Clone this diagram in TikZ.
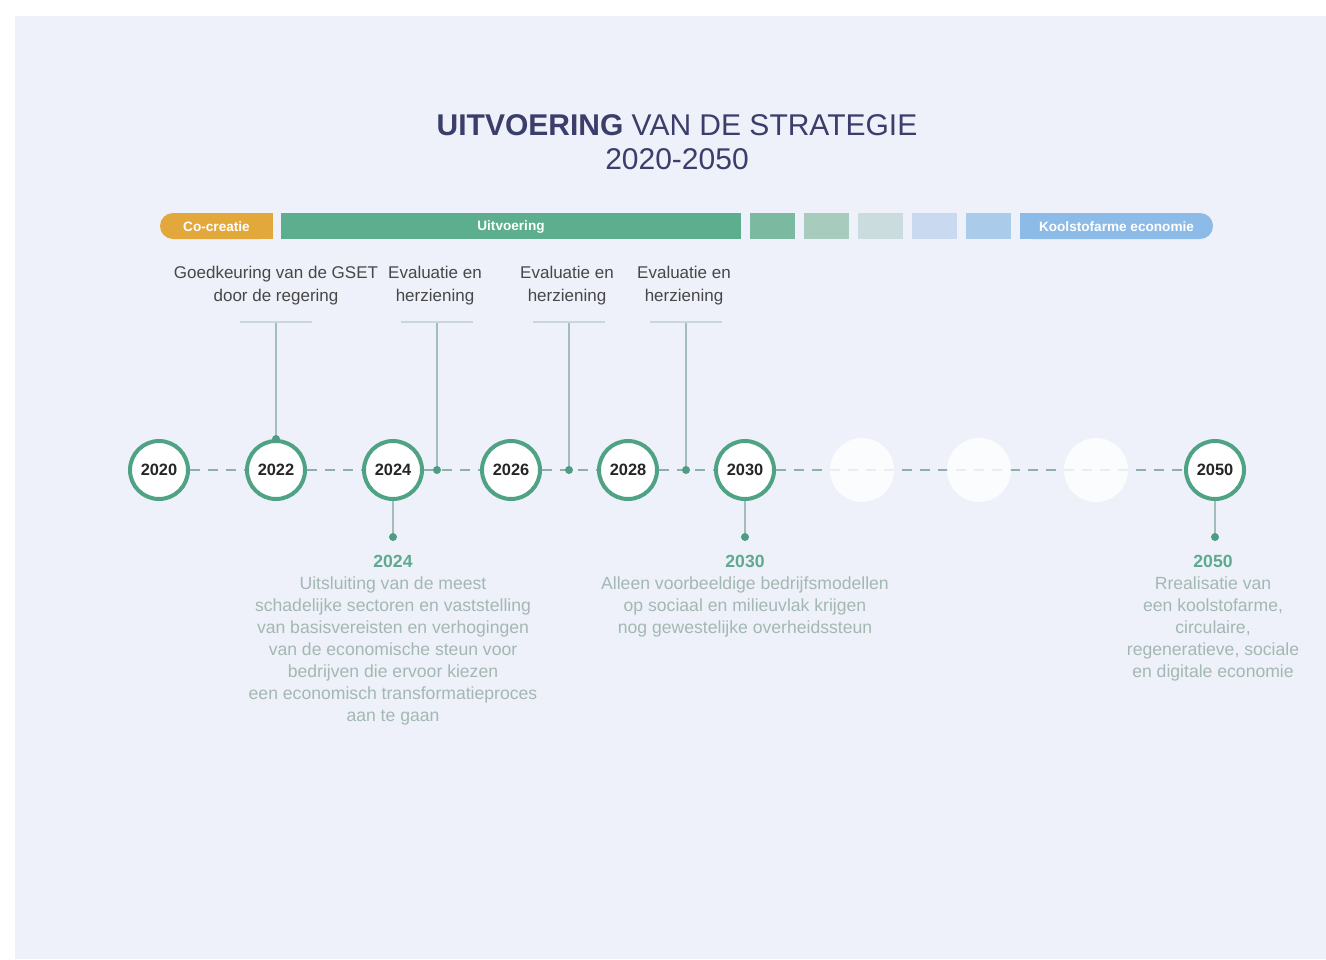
\documentclass[tikz,border=0pt]{standalone}
\usepackage{fontspec}
\setmainfont{Liberation Sans}
\usetikzlibrary{positioning}

\definecolor{panel}{HTML}{EEF1F9}
\definecolor{navy}{HTML}{3B3E6A}
\definecolor{ringgreen}{HTML}{4FA283}
\definecolor{dashgray}{HTML}{8DB0A8}
\definecolor{stemgray}{HTML}{A3BDBB}
\definecolor{capgray}{HTML}{C9D6DC}
\definecolor{labelgray}{HTML}{474747}
\definecolor{notegray}{HTML}{A3B8B3}
\definecolor{yeargreen}{HTML}{5FAA8F}
\definecolor{dotgreen}{HTML}{4E9C84}
\definecolor{cocreatie}{HTML}{E2A83C}
\definecolor{uitvoering}{HTML}{5DAE8E}
\definecolor{fadeA}{HTML}{7BB9A0}
\definecolor{fadeB}{HTML}{A7CCBD}
\definecolor{fadeC}{HTML}{CBDCDF}
\definecolor{fadeD}{HTML}{C9D9EF}
\definecolor{fadeE}{HTML}{ABCBEB}
\definecolor{koolstof}{HTML}{8CBBE8}

\tikzset{
  barseg/.style={inner sep=0, minimum height=13pt, text=white,
    font=\fontsize{6.8}{8}\selectfont\bfseries},
  yearring/.style={circle, draw=ringgreen, line width=2pt, fill=white,
    minimum size=29pt, inner sep=0, text=black!85,
    font=\fontsize{8.2}{10}\selectfont\bfseries},
  ghost/.style={circle, fill=white, fill opacity=0.8, minimum size=32pt, inner sep=0},
  timeline/.style={dashgray, line width=1pt, dash pattern=on 5pt off 4pt},
  stem/.style={stemgray, line width=0.8pt},
  capline/.style={capgray, line width=1pt},
  toplabel/.style={inner sep=0, align=center, text=labelgray,
    font=\fontsize{8.5}{11.5}\selectfont},
  note/.style={inner sep=0, align=center, text=notegray,
    font=\fontsize{8.8}{11}\selectfont}
}

\begin{document}
\begin{tikzpicture}[x=0.5pt, y=-0.5pt]
% background
\fill[white] (0,0) rectangle (1326,959);
\fill[panel] (15,16) rectangle (1326,959);
\useasboundingbox (0,0) rectangle (1326,959);

% title
\node[align=center, text=navy, font=\fontsize{15}{17}\selectfont] (title) at (677,142)
  {{\bfseries UITVOERING} VAN DE STRATEGIE\\2020-2050};

% phase bar
\fill[cocreatie, rounded corners=6.5pt] (160,213) rectangle (273,239);
\fill[cocreatie] (230,213) rectangle (273,239);
\node[barseg] (cocr) at (216.5,227) {Co-creatie};
\node[barseg, fill=uitvoering, minimum width=230pt] (uitv) at (511,226) {};
\node[barseg] at (511,227) {Uitvoering};
\foreach \c/\xx in {fadeA/772.5, fadeB/826, fadeC/880.5, fadeD/934.5, fadeE/988}
  \node[barseg, fill=\c, minimum width=22.5pt] at (\xx,226) {};
\fill[koolstof, rounded corners=6.5pt] (1020,213) rectangle (1213,239);
\fill[koolstof] (1020,213) rectangle (1100,239);
\node[barseg] (kool) at (1116.5,227) {Koolstofarme economie};

% years
\foreach \yr/\xx in {2020/159, 2022/276, 2024/393, 2026/511, 2028/628, 2030/745, 2050/1215}
  \node[yearring] (y\yr) at (\xx,470) {\yr};

% dashed line
\draw[timeline] (y2020) -- (y2022);
\draw[timeline] (y2022) -- (y2024);
\draw[timeline] (y2024) -- (y2026);
\draw[timeline] (y2026) -- (y2028);
\draw[timeline] (y2028) -- (y2030);
\draw[timeline] (y2030) -- (y2050);
\foreach \i/\xx in {1/862, 2/979, 3/1096}
  \node[ghost] (g\i) at (\xx,470) {};

% upper milestones
\coordinate (cap0) at (276,322);
\coordinate (cap1) at (437,322);
\coordinate (cap2) at (569,322);
\coordinate (cap3) at (686,322);
\coordinate (ev1) at (437,470);
\coordinate (ev2) at (569,470);
\coordinate (ev3) at (686,470);
\draw[stem] (cap0) -- (y2022.north);
\fill[dotgreen] (y2022.north) circle (2pt);
\foreach \i in {1,2,3}{
  \draw[stem] (cap\i) -- (ev\i);
  \fill[dotgreen] (ev\i) circle (2pt);
}
\foreach \i in {0,1,2,3}
  \draw[capline] ([xshift=-18pt]cap\i) -- ([xshift=18pt]cap\i);

\node[toplabel, above=8.5pt of cap0] (gset) {Goedkeuring van de GSET\\door de regering};
\node[toplabel, above=8.5pt of cap1, xshift=-1pt] (eval1) {Evaluatie en\\herziening};
\node[toplabel, above=8.5pt of cap2, xshift=-1pt] (eval2) {Evaluatie en\\herziening};
\node[toplabel, above=8.5pt of cap3, xshift=-1pt] (eval3) {Evaluatie en\\herziening};

% lower milestones
\coordinate (d2024) at (393,537);
\coordinate (d2030) at (745,537);
\coordinate (d2050) at (1215,537);
\foreach \yr in {2024,2030,2050}{
  \draw[stem] (y\yr.south) -- (d\yr);
  \fill[dotgreen] (d\yr) circle (2pt);
}
\node[note, below=9pt of d2024] (n2024) {{\color{yeargreen}\bfseries 2024}\\
  Uitsluiting van de meest\\schadelijke sectoren en vaststelling\\
  van basisvereisten en verhogingen\\van de economische steun voor\\
  bedrijven die ervoor kiezen\\een economisch transformatieproces\\aan te gaan};
\node[note, below=9pt of d2030] (n2030) {{\color{yeargreen}\bfseries 2030}\\
  Alleen voorbeeldige bedrijfsmodellen\\op sociaal en milieuvlak krijgen\\
  nog gewestelijke overheidssteun};
\node[note, below=9pt of d2050, xshift=-1pt] (n2050) {{\color{yeargreen}\bfseries 2050}\\
  Rrealisatie van\\een koolstofarme,\\circulaire,\\regeneratieve, sociale\\
  en digitale economie};
\end{tikzpicture}
\end{document}
